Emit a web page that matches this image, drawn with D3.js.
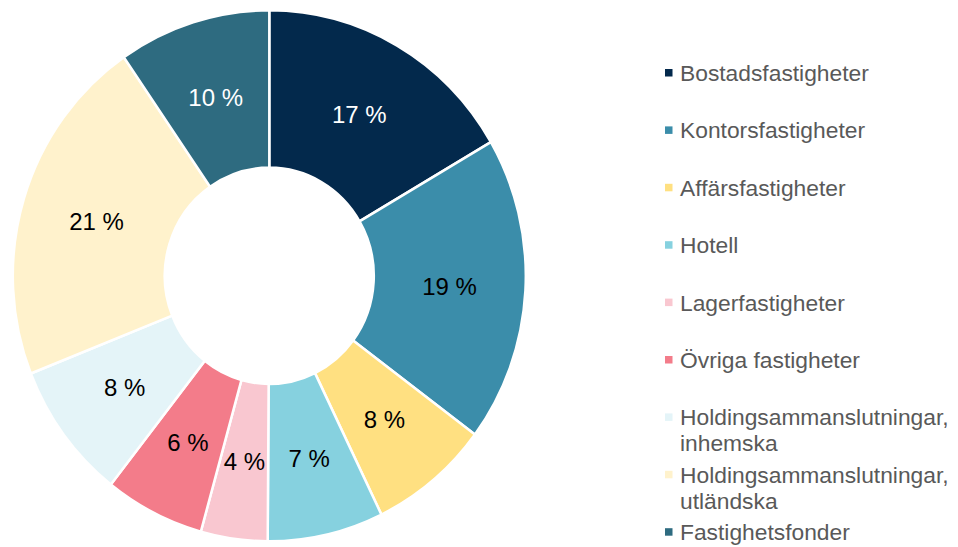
<!DOCTYPE html>
<html>
<head>
<meta charset="utf-8">
<script src="https://cdn.jsdelivr.net/npm/d3@7"></script>
<style>
  html, body { margin: 0; padding: 0; background: #ffffff; }
  svg { display: block; font-family: "Liberation Sans", Arial, sans-serif; }
</style>
</head>
<body>
<svg id="chart" width="958" height="547"></svg>
<script>
// Data
const categories = [
  "Bostadsfastigheter",
  "Kontorsfastigheter",
  "Affärsfastigheter",
  "Hotell",
  "Lagerfastigheter",
  "Övriga fastigheter",
  "Holdingsammanslutningar, inhemska",
  "Holdingsammanslutningar, utländska",
  "Fastighetsfonder"
];
const legendLines = [
  ["Bostadsfastigheter"],
  ["Kontorsfastigheter"],
  ["Affärsfastigheter"],
  ["Hotell"],
  ["Lagerfastigheter"],
  ["Övriga fastigheter"],
  ["Holdingsammanslutningar,", "inhemska"],
  ["Holdingsammanslutningar,", "utländska"],
  ["Fastighetsfonder"]
];
const values = [16.6, 18.6, 7.6, 7.3, 4.2, 6.3, 8.4, 21.4, 9.6];
const colors = ["#03294C", "#3B8DAA", "#FFE081", "#86D1DF", "#F9C7D0", "#F37C8A", "#E4F4F8", "#FFF2CC", "#2E6B80"];
const labelColors = ["#ffffff", "#000000", "#000000", "#000000", "#000000", "#000000", "#000000", "#000000", "#ffffff"];

const svg = d3.select("#chart");

// Donut
const cx = 269.3, cy = 275.8, yStretch = 1.035;
const outerR = 256.5, innerR = 104.5;

const pie = d3.pie().sort(null).value(d => d)(values);
const arc = d3.arc().innerRadius(innerR).outerRadius(outerR);

const g = svg.append("g")
  .attr("transform", `translate(${cx},${cy}) scale(1,${yStretch})`);

g.selectAll("path.slice")
  .data(pie)
  .join("path")
  .attr("class", "slice")
  .attr("d", arc)
  .attr("fill", (d, i) => colors[i])
  .attr("stroke", "#ffffff")
  .attr("stroke-width", 2.5)
  .attr("stroke-linejoin", "miter");

g.selectAll("text.lbl")
  .data(pie)
  .join("text")
  .attr("class", "lbl")
  .attr("transform", d => {
    const [x, y] = arc.centroid(d);
    return `translate(${x},${y})`;
  })
  .attr("text-anchor", "middle")
  .attr("dy", "0.35em")
  .attr("font-size", 24)
  .attr("fill", (d, i) => labelColors[i])
  .text(d => Math.round(d.data) + " %");

// Legend
const legendX = 665, textX = 680, firstBaseline = 81, step = 57.4, lineH = 26;
const yScale = d3.scaleLinear().domain([0, 1]).range([firstBaseline, firstBaseline + step]);

const leg = svg.append("g");
const items = leg.selectAll("g.item")
  .data(categories)
  .join("g")
  .attr("class", "item")
  .attr("transform", (d, i) => `translate(0,${yScale(i)})`);

items.append("rect")
  .attr("x", legendX)
  .attr("y", -12)
  .attr("width", 7.5)
  .attr("height", 7.5)
  .attr("fill", (d, i) => colors[i]);

items.append("text")
  .attr("x", textX)
  .attr("y", 0)
  .attr("font-size", 22.8)
  .attr("fill", "#595959")
  .each(function(d, i) {
    const t = d3.select(this);
    legendLines[i].forEach((line, k) => {
      t.append("tspan")
        .attr("x", textX)
        .attr("dy", k === 0 ? 0 : lineH)
        .text(line);
    });
  });
</script>
</body>
</html>
